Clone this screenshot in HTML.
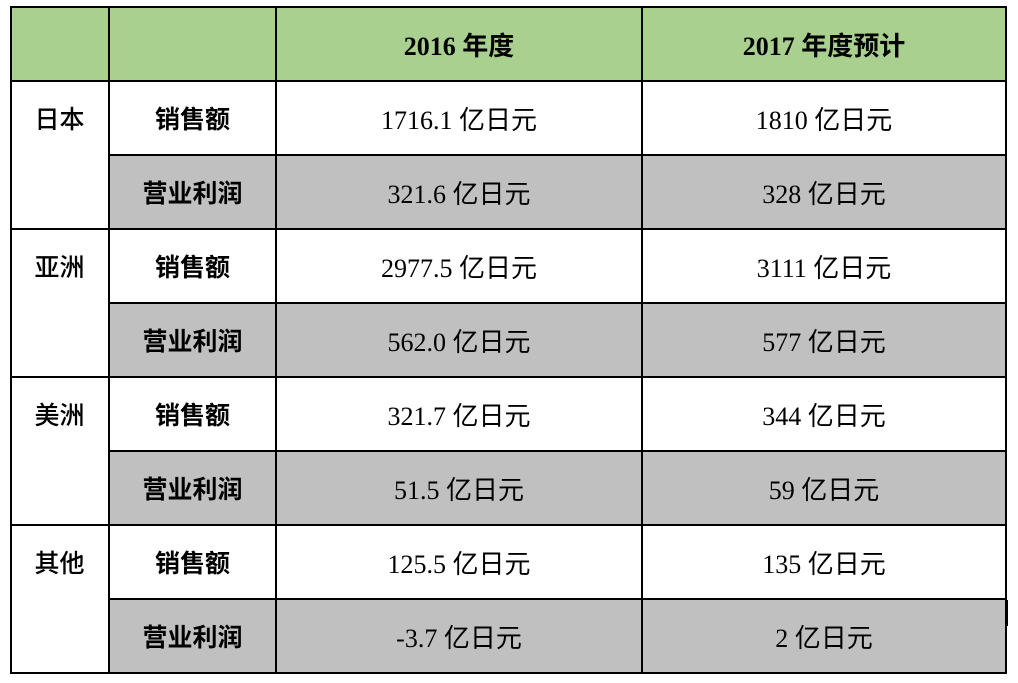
<!DOCTYPE html>
<html><head><meta charset="utf-8"><style>
body{margin:0;width:1018px;height:683px;background:#fff;position:relative;overflow:hidden;font-family:"Liberation Serif","Noto Sans CJK SC",serif;color:#000}
.c{position:absolute;box-sizing:border-box;display:flex;align-items:center;justify-content:center;font-size:26px}
.h{position:absolute;background:#000;height:2px}
.v{position:absolute;background:#000;width:2px}
.b{font-weight:bold}
.k{font-family:"Noto Sans CJK SC",sans-serif;font-weight:500;font-size:25px}
.kb{font-family:"Noto Sans CJK SC",sans-serif;font-weight:bold;font-size:25px}
</style></head><body>
<div class="c" style="left:10px;top:7px;width:996px;height:74px;background:#a9d08e"></div>
<div class="c" style="left:109px;top:155px;width:897px;height:74px;background:#c0c0c0"></div>
<div class="c" style="left:109px;top:303px;width:897px;height:74px;background:#c0c0c0"></div>
<div class="c" style="left:109px;top:451px;width:897px;height:74px;background:#c0c0c0"></div>
<div class="c" style="left:109px;top:599px;width:897px;height:74px;background:#c0c0c0"></div>

<div class="h" style="left:10px;top:6px;width:997px"></div>
<div class="h" style="left:10px;top:80px;width:997px"></div>
<div class="h" style="left:109px;top:154px;width:898px"></div>
<div class="h" style="left:10px;top:228px;width:997px"></div>
<div class="h" style="left:109px;top:302px;width:898px"></div>
<div class="h" style="left:10px;top:376px;width:997px"></div>
<div class="h" style="left:109px;top:450px;width:898px"></div>
<div class="h" style="left:10px;top:524px;width:997px"></div>
<div class="h" style="left:109px;top:598px;width:898px"></div>
<div class="h" style="left:10px;top:672px;width:997px"></div>
<div class="v" style="left:10px;top:6px;height:668px"></div>
<div class="v" style="left:108px;top:6px;height:668px"></div>
<div class="v" style="left:275px;top:6px;height:668px"></div>
<div class="v" style="left:641px;top:6px;height:668px"></div>
<div class="v" style="left:1005px;top:6px;height:668px"></div>
<div class="v" style="left:1006px;top:600px;height:26px"></div>

<div class="c b" style="left:276px;top:7px;width:366px;height:74px">2016 年度</div>
<div class="c b" style="left:642px;top:7px;width:364px;height:74px">2017 年度预计</div>

<div class="c k" style="left:10px;top:81px;width:99px;height:74px">日本</div>
<div class="c k" style="left:10px;top:229px;width:99px;height:74px">亚洲</div>
<div class="c k" style="left:10px;top:377px;width:99px;height:74px">美洲</div>
<div class="c k" style="left:10px;top:525px;width:99px;height:74px">其他</div>

<div class="c kb" style="left:109px;top:81px;width:167px;height:74px">销售额</div>
<div class="c kb" style="left:109px;top:155px;width:167px;height:74px">营业利润</div>
<div class="c kb" style="left:109px;top:229px;width:167px;height:74px">销售额</div>
<div class="c kb" style="left:109px;top:303px;width:167px;height:74px">营业利润</div>
<div class="c kb" style="left:109px;top:377px;width:167px;height:74px">销售额</div>
<div class="c kb" style="left:109px;top:451px;width:167px;height:74px">营业利润</div>
<div class="c kb" style="left:109px;top:525px;width:167px;height:74px">销售额</div>
<div class="c kb" style="left:109px;top:599px;width:167px;height:74px">营业利润</div>

<div class="c" style="left:276px;top:81px;width:366px;height:74px">1716.1 亿日元</div>
<div class="c" style="left:276px;top:155px;width:366px;height:74px">321.6 亿日元</div>
<div class="c" style="left:276px;top:229px;width:366px;height:74px">2977.5 亿日元</div>
<div class="c" style="left:276px;top:303px;width:366px;height:74px">562.0 亿日元</div>
<div class="c" style="left:276px;top:377px;width:366px;height:74px">321.7 亿日元</div>
<div class="c" style="left:276px;top:451px;width:366px;height:74px">51.5 亿日元</div>
<div class="c" style="left:276px;top:525px;width:366px;height:74px">125.5 亿日元</div>
<div class="c" style="left:276px;top:599px;width:366px;height:74px">-3.7 亿日元</div>

<div class="c" style="left:642px;top:81px;width:364px;height:74px">1810 亿日元</div>
<div class="c" style="left:642px;top:155px;width:364px;height:74px">328 亿日元</div>
<div class="c" style="left:642px;top:229px;width:364px;height:74px">3111 亿日元</div>
<div class="c" style="left:642px;top:303px;width:364px;height:74px">577 亿日元</div>
<div class="c" style="left:642px;top:377px;width:364px;height:74px">344 亿日元</div>
<div class="c" style="left:642px;top:451px;width:364px;height:74px">59 亿日元</div>
<div class="c" style="left:642px;top:525px;width:364px;height:74px">135 亿日元</div>
<div class="c" style="left:642px;top:599px;width:364px;height:74px">2 亿日元</div>
</body></html>
